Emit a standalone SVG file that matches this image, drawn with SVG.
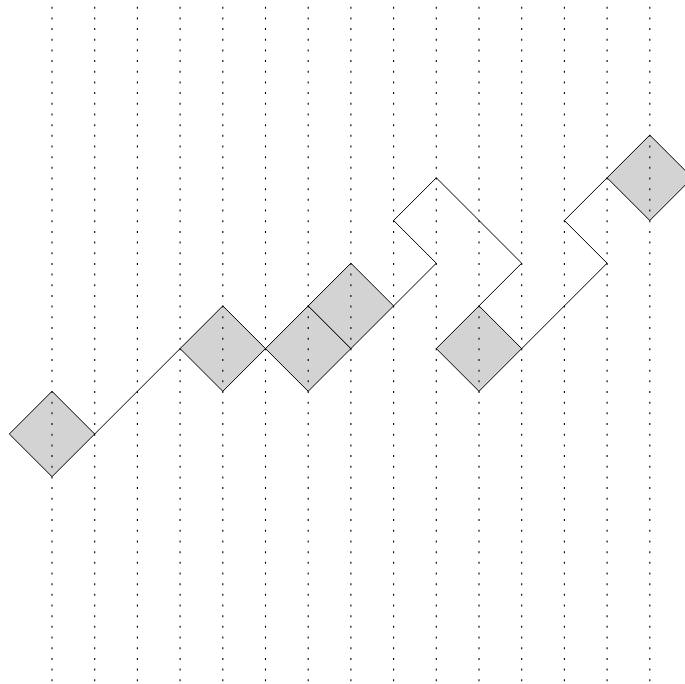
<svg xmlns="http://www.w3.org/2000/svg" width="685" height="684" viewBox="0 0 685 684">
<style>
.bg{fill:#ffffff}
.node{fill:#d3d3d3;stroke:#000;stroke-width:1;stroke-linejoin:miter}
.grid line{stroke:#000;stroke-width:1.1;stroke-dasharray:2 8.675}
.conn{fill:none;stroke:#000;stroke-width:1;stroke-linejoin:miter}
</style>
<rect class="bg" x="0" y="0" width="685" height="684"/>
<g id="d1"><polygon class="node" points="52,391.3 94.7,434 52,476.7 9.3,434"/></g>
<g id="d2"><polygon class="node" points="222.8,305.9 265.5,348.6 222.8,391.3 180.1,348.6"/></g>
<g id="d3"><polygon class="node" points="308.2,305.9 350.9,348.6 308.2,391.3 265.5,348.6"/></g>
<g id="d4"><polygon class="node" points="350.9,263.2 393.6,305.9 350.9,348.6 308.2,305.9"/></g>
<g id="d5"><polygon class="node" points="479,305.9 521.7,348.6 479,391.3 436.3,348.6"/></g>
<g id="d6"><polygon class="node" points="649.8,135.1 692.5,177.8 649.8,220.5 607.1,177.8"/></g>
<g class="grid" id="grid">
<line x1="52" y1="6.7" x2="52" y2="684"/>
<line x1="94.7" y1="6.7" x2="94.7" y2="684"/>
<line x1="137.4" y1="6.7" x2="137.4" y2="684"/>
<line x1="180.1" y1="6.7" x2="180.1" y2="684"/>
<line x1="222.8" y1="6.7" x2="222.8" y2="684"/>
<line x1="265.5" y1="6.7" x2="265.5" y2="684"/>
<line x1="308.2" y1="6.7" x2="308.2" y2="684"/>
<line x1="350.9" y1="6.7" x2="350.9" y2="684"/>
<line x1="393.6" y1="6.7" x2="393.6" y2="684"/>
<line x1="436.3" y1="6.7" x2="436.3" y2="684"/>
<line x1="479" y1="6.7" x2="479" y2="684"/>
<line x1="521.7" y1="6.7" x2="521.7" y2="684"/>
<line x1="564.4" y1="6.7" x2="564.4" y2="684"/>
<line x1="607.1" y1="6.7" x2="607.1" y2="684"/>
<line x1="649.8" y1="6.7" x2="649.8" y2="684"/>
</g>
<g id="connectors">
<path class="conn" d="M94.7,434 L180.1,348.6"/>
<path class="conn" d="M393.6,305.9 L436.3,263.2 L393.6,220.5 L436.3,177.8 L521.7,263.2 L479,305.9"/>
<path class="conn" d="M521.7,348.6 L607.1,263.2 L564.4,220.5 L607.1,177.8"/>
</g>
</svg>
